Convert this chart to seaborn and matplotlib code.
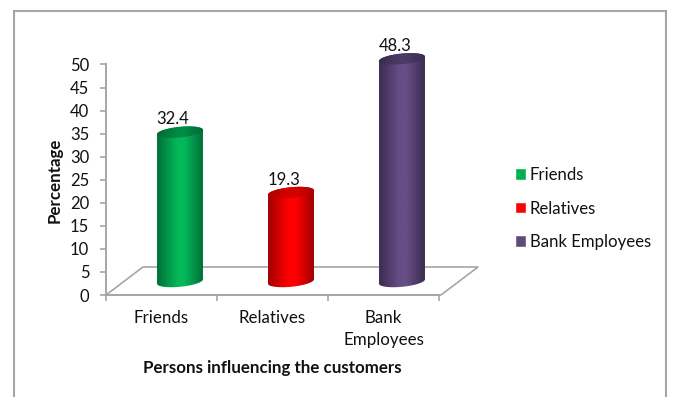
import numpy as np
import pandas as pd
import matplotlib
matplotlib.use("Agg")
import matplotlib.pyplot as plt
import seaborn as sns
from matplotlib.colors import LinearSegmentedColormap
from matplotlib.patches import PathPatch, Rectangle
from matplotlib.path import Path

categories = ["Friends", "Relatives", "Bank Employees"]
tick_labels = ["Friends", "Relatives", "Bank\nEmployees"]
percentages = [32.4, 19.3, 48.3]

legend_colors = ["#00b050", "#ff0000", "#604a7b"]
edge_colors = ["#00703a", "#a00000", "#3b2c52"]
mid_colors = ["#05b858", "#ff0000", "#674d85"]
cap_edges = ["#006a36", "#b00000", "#3a2c50"]
cap_mids = ["#008a45", "#d40000", "#4b3a66"]

W, H = 673, 397
GRAY = "#a6a6a6"
TEXT = "#111111"

sns.set_theme(style="white")
plt.rcParams["font.family"] = ["Lato", "DejaVu Sans"]


def frac_box(left, top, right, bottom):
    return [left / W, 1 - bottom / H, (right - left) / W, (bottom - top) / H]


fig = plt.figure(figsize=(W / 100, H / 100), dpi=100, facecolor="white")

# Outer chart frame; its lower edge runs past the bottom of the figure
fig.add_artist(Rectangle((13.5 / W, -0.05), (666 - 13.5) / W, 1.05 - 11 / H,
                         transform=fig.transFigure, fill=False,
                         edgecolor=GRAY, linewidth=1.5))

# Axes carrying the scale, the labels and the floor
ax = fig.add_axes(frac_box(106, 64.5, 439, 295))
ax.set_xlim(-0.5, 2.5)
ax.set_ylim(0, 50)
ax.patch.set_alpha(0)
ax.set_yticks(np.arange(0, 51, 5))
ax.set_xticks([-0.5, 0.5, 1.5, 2.5])
ax.set_xticklabels([])
ax.set_xticks([0, 1, 2], minor=True)
ax.set_xticklabels(tick_labels, minor=True, fontsize=12.2, color=TEXT, linespacing=1.46)
ax.tick_params(axis="y", length=4, width=1.2, color=GRAY, pad=8,
               labelsize=12, labelcolor=TEXT, left=True)
ax.tick_params(axis="x", which="major", length=4, width=1.2, color=GRAY, bottom=True)
ax.tick_params(axis="x", which="minor", length=0, pad=11)
sns.despine(ax=ax, top=True, right=True)
for side in ("left", "bottom"):
    ax.spines[side].set_color(GRAY)
    ax.spines[side].set_linewidth(1.4)

# Floor parallelogram behind the columns
depth_x, depth_y = 37 / 333, 28 / 230.5
ax.plot([0, depth_x, 1 + depth_x + 0.006, 1.006, 0],
        [0, depth_y, depth_y, 0, 0],
        transform=ax.transAxes, clip_on=False, color=GRAY, lw=1.2, zorder=1)

ax.set_ylabel("")
ax.set_xlabel("")
fig.text(54.5 / W, 1 - 180 / H, "Percentage", rotation=90, ha="center", va="center",
         fontsize=12.2, fontweight="bold", color=TEXT)
fig.text(272.5 / W, 1 - 368 / H, "Persons influencing the customers", ha="center",
         va="center", fontsize=12.2, fontweight="bold", color=TEXT)

# Columns stand halfway back on the floor, on a plane with the same scale
bars_ax = fig.add_axes(frac_box(106 + 18.5, 64.5 - 13.5, 439 + 18.5, 295 - 13.5))
frame = pd.DataFrame({"group": categories, "value": percentages})
sns.barplot(data=frame, x="group", y="value", hue="group", order=categories,
            hue_order=categories, palette=legend_colors, saturation=1, dodge=False,
            width=0.414, legend=True, ax=bars_ax)
bars_ax.set_xlim(-0.5, 2.5)
bars_ax.set_ylim(0, 50)
bars_ax.axis("off")

sns.move_legend(bars_ax, loc="center left", bbox_to_anchor=(514.5 / W, 1 - 208.5 / H),
                bbox_transform=fig.transFigure, frameon=False, title=None,
                fontsize=12.1, handlelength=0.68, handleheight=0.68,
                handletextpad=0.22, labelspacing=1.05, borderpad=0, borderaxespad=0)
for text in bars_ax.get_legend().get_texts():
    text.set_color(TEXT)

RY, TILT = 1.15, 0.47
gradient = np.linspace(0, 1, 256).reshape(1, -1)


def rim(cx, half_w, level, start, stop):
    t = np.linspace(start, stop, 60)
    return np.column_stack([cx + half_w * np.cos(t),
                            level + RY * np.sin(t) + TILT * np.cos(t)])


def shaded(path, extent, edge, mid, zorder):
    cmap = LinearSegmentedColormap.from_list(
        "shade", [(0, edge), (0.45, mid), (0.6, mid), (1, edge)])
    img = bars_ax.imshow(gradient, cmap=cmap, extent=extent, aspect="auto",
                         interpolation="bilinear", zorder=zorder)
    clip = PathPatch(path, transform=bars_ax.transData, facecolor="none", edgecolor="none")
    clip.set_clip_on(False)
    bars_ax.add_patch(clip)
    img.set_clip_path(clip)
    # The lower rim dips below the plane's zero line, so the axes box must not cut it
    img.set_clip_box(fig.bbox)


for i, container in enumerate(bars_ax.containers):
    bar = container[0]
    x0, w, h = bar.get_x(), bar.get_width(), bar.get_height()
    bar.set_visible(False)
    cx = x0 + w / 2
    body = np.vstack([rim(cx, w / 2, 0, np.pi, 2 * np.pi),
                      rim(cx, w / 2, h, 0, np.pi)])
    cap = rim(cx, w / 2, h, 0, 2 * np.pi)
    shaded(Path(np.vstack([body, body[:1]]), closed=True),
           (x0, x0 + w, -3, h + 3), edge_colors[i], mid_colors[i], 3)
    shaded(Path(cap, closed=True),
           (x0, x0 + w, h - 3, h + 3), cap_edges[i], cap_mids[i], 4)
    bars_ax.annotate(f"{h:.1f}", xy=(cx, h), xytext=(-5, 3.5), textcoords="offset points",
                     ha="center", va="bottom", fontsize=12, color=TEXT,
                     annotation_clip=False, zorder=5)

bars_ax.set_xlim(-0.5, 2.5)
bars_ax.set_ylim(0, 50)

fig.savefig("out.png", dpi=100, facecolor="white")
